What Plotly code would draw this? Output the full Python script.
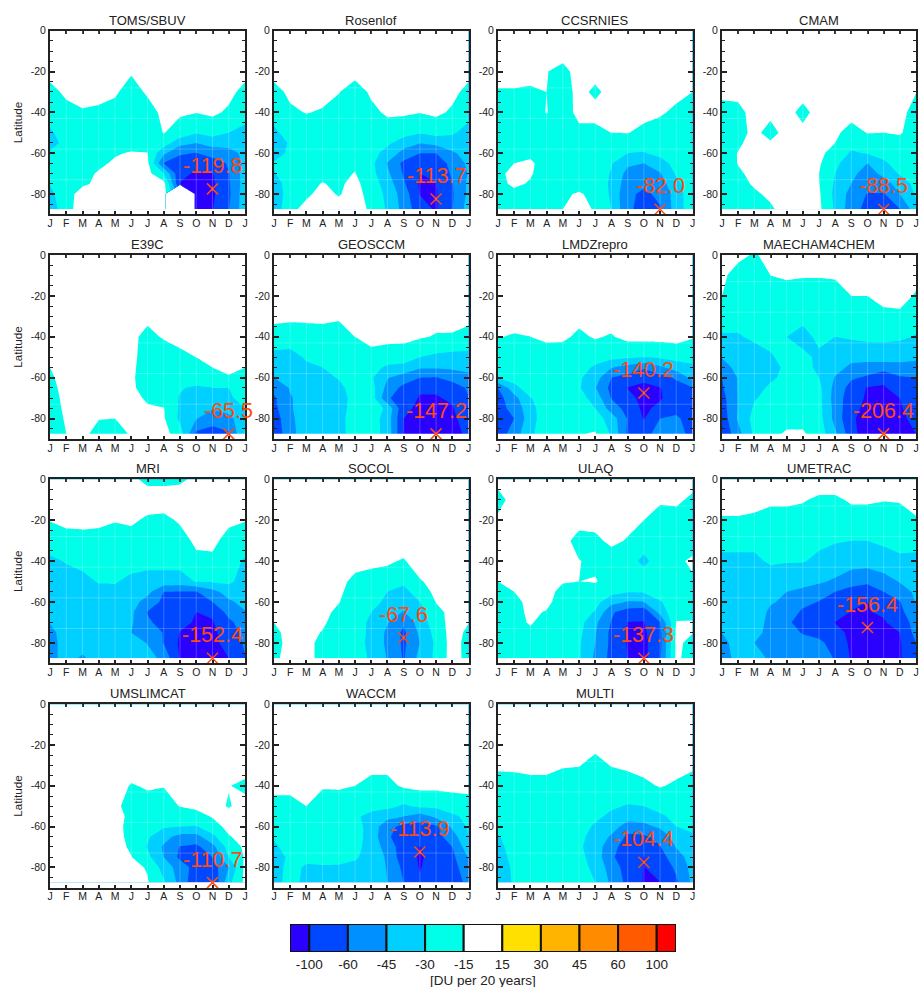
import numpy as np
import plotly.graph_objects as go

_ = None
MONTHS = ["J","F","M","A","M","J","J","A","S","O","N","D","J"]
LATS = [0,-10,-20,-30,-40,-50,-55,-60,-65,-70,-75,-80,-87.5]
LAT_TICKS = [0,-20,-40,-60,-80]
LEVELS = [-100,-60,-45,-30,-15,15,30,45,60,100]
COLORS = ["#2A00FF","#0048FF","#0090FF","#00D0FF","#00FFE8","#FFFFFF","#FFE000","#FFB400","#FF8C00","#FF5A00","#FF0000"]

TOMS = [[-2]*13,[-3]*13,
[-6,-6,-6,-6,-6,-12,-6,-6,-6,-6,-6,-6,-6],
[-19,-10,-7,-8,-11,-21,-11,-5,-6,-7,-5,-8,-19],
[-24,-19,-16,-17,-20,-22,-21,-8,-12,-14,-10,-17,-24],
[-32,-24,-22,-21,-22,-22,-24,-14,-20,-29,-24,-30,-34],
[-36,-25,-21,-20,-21,-20,-22,-22,-40,-45,-40,-42,-42],
[-28,-23,-20,-19,-16,-13,-14,-42,-58,-62,-52,-48,-43],
[-25,-22,-19,-17,-12,-10,-9,-62,-80,-90,-85,-58,-42],
[-26,-22,-18,-13,-8,-6,-5,-30,-92,-115,-105,-62,-38],
[-29,-21,-17,-10,-5,-4,-3,-4,-105,-130,-125,-65,-38],
[-34,-20,-5,-4,-3,-3,-3,-3,_,-130,-125,-68,-36],
[-40,-19,-4,-3,-3,-3,-3,-3,_,-135,-105,-62,-36]]
ROSENLOF = [[-2]*13,[-3]*13,[-6]*13,
[-19,-10,-7,-8,-14,-21,-11,-12,-6,-6,-5,-8,-19],
[-24,-17,-14,-16,-20,-22,-18,-11,-11,-14,-9,-17,-24],
[-33,-24,-22,-22,-23,-24,-23,-21,-24,-29,-25,-28,-36],
[-40,-28,-22,-22,-22,-22,-22,-27,-38,-44,-40,-37,-38],
[-38,-26,-21,-20,-20,-20,-24,-36,-50,-60,-60,-47,-40],
[-28,-23,-20,-19,-19,-17,-26,-46,-70,-85,-80,-56,-42],
[-31,-22,-19,-18,-18,-14,-25,-42,-64,-100,-90,-58,-44],
[-38,-22,-18,-14,-17,-8,-22,-37,-58,-120,-105,-62,-42],
[-42,-21,-17,-8,-16,-5,-20,-34,-52,-105,-112,-64,-42],
[-40,-18,-8,-5,-5,-5,-17,-32,-50,-85,-115,-62,-38]]
CCSRNIES = [[-2]*13,[-3]*13,
[-6,-6,-6,-14,-19,-5,-5,-3,-3,-3,-3,-3,-3],
[-16,-16,-17,-15,-22,-6,-18,-5,-3,-3,-3,-7,-15],
[-22,-22,-21,-14,-21,-8,-5,-4,-4,-6,-11,-18,-22],
[-22,-23,-22,-21,-22,-18,-19,-15,-14,-19,-22,-23,-22],
[-20,-21,-20,-22,-22,-22,-22,-22,-24,-24,-24,-24,-22],
[-20,-19,-17,-21,-23,-23,-23,-25,-30,-31,-26,-24,-22],
[-19,-15,-12,-19,-22,-23,-24,-29,-42,-45,-36,-25,-22],
[-17,-10,-13,-20,-22,-22,-23,-31,-50,-52,-46,-28,-21],
[-18,-11,-16,-20,-20,-22,-23,-32,-54,-58,-52,-34,-20],
[-20,-18,-19,-20,-18,-11,-20,-32,-58,-65,-58,-38,-20],
[-21,-21,-20,-20,-15,-8,-16,-30,-58,-70,-62,-38,-20]]
CMAM = [[-2]*13,[-3]*13,[-5]*13,
[-8,-7,-5,-5,-5,-5,-5,-5,-5,-5,-5,-5,-14],
[-20,-19,-5,-8,-6,-19,-5,-4,-5,-5,-5,-7,-20],
[-22,-20,-8,-20,-5,-8,-5,-10,-20,-14,-15,-12,-22],
[-22,-17,-6,-12,-5,-5,-7,-15,-25,-22,-21,-20,-22],
[-21,-14,-5,-6,-5,-4,-9,-20,-32,-29,-26,-22,-22],
[-22,-14,-6,-5,-5,-4,-11,-28,-35,-45,-32,-25,-22],
[-22,-17,-8,-5,-5,-4,-15,-30,-42,-50,-42,-28,-23],
[-22,-19,-12,-6,-5,-5,-14,-32,-45,-55,-50,-40,-25],
[-22,-20,-17,-10,-5,-5,-11,-34,-50,-62,-63,-45,-28],
[-22,-21,-19,-17,-4,-2,-9,-32,-54,-72,-78,-62,-36]]
E39C = [[-2]*13,[-3]*13,[-4]*13,
[-4,-4,-4,-4,-4,-4,-10,-4,-4,-4,-4,-4,-4],
[-4,-4,-4,-4,-4,-10,-18,-13,-10,-8,-6,-5,-4],
[-6,-4,-4,-4,-4,-8,-21,-21,-17,-15,-11,-7,-9],
[-15,-4,-4,-4,-4,-9,-22,-22,-20,-19,-15,-10,-15],
[-17,-5,-4,-4,-4,-10,-23,-23,-23,-22,-20,-16,-20],
[-19,-6,-4,-4,-4,-9,-22,-22,-29,-32,-30,-30,-22],
[-21,-7,-4,-4,-4,-6,-17,-21,-31,-38,-35,-33,-23],
[-22,-9,-4,-4,-4,-5,-12,-14,-32,-40,-43,-39,-30],
[-22,-12,-5,-14,-15,-10,-8,-12,-33,-44,-57,-50,-33],
[-24,-15,-8,-20,-21,-12,-6,-6,-22,-70,-68,-66,-28]]
GEOSCCM = [[-2]*13,[-3]*13,[-5]*13,
[-9,-10,-9,-8,-11,-6,-5,-5,-5,-6,-6,-7,-8],
[-20,-21,-21,-21,-22,-15,-9,-8,-8,-12,-16,-16,-19],
[-35,-36,-28,-26,-24,-22,-18,-21,-22,-30,-33,-35,-35],
[-37,-37,-33,-30,-26,-23,-24,-33,-35,-43,-43,-42,-40],
[-45,-41,-37,-34,-29,-25,-28,-44,-52,-60,-62,-55,-50],
[-56,-44,-39,-36,-34,-23,-24,-50,-72,-95,-95,-80,-58],
[-65,-46,-40,-37,-35,-26,-22,-58,-82,-110,-110,-95,-62],
[-72,-46,-40,-37,-35,-25,-22,-33,-92,-125,-125,-110,-72],
[-85,-47,-40,-37,-34,-24,-22,-37,-100,-135,-140,-120,-88],
[-95,-48,-40,-37,-33,-26,-24,-35,-110,-140,-147,-130,-95]]
LMDZ = [[-2]*13,[-3]*13,[-3]*13,
[-5,-5,-5,-5,-5,-9,-5,-5,-5,-5,-5,-5,-5],
[-14,-16,-15,-10,-11,-17,-13,-16,-7,-6,-6,-5,-13],
[-22,-20,-21,-21,-21,-21,-22,-26,-28,-30,-28,-25,-25],
[-27,-21,-20,-20,-20,-22,-33,-44,-50,-58,-48,-38,-33],
[-29,-22,-21,-20,-20,-28,-38,-60,-75,-92,-75,-58,-40],
[-60,-36,-20,-20,-20,-28,-44,-72,-105,-130,-105,-75,-62],
[-75,-50,-31,-20,-20,-24,-36,-62,-90,-135,-115,-80,-72],
[-75,-55,-35,-21,-20,-21,-30,-52,-75,-130,-90,-70,-72],
[-80,-60,-36,-21,-20,-20,-23,-37,-62,-110,-60,-58,-75],
[-85,-52,-34,-17,-16,-16,-12,-32,-66,-78,-52,-50,-80]]
MAECHAM = [[-10,-10,-16,-9,-8,-8,-8,-8,-5,-5,-4,-4,-8],
[-11,-19,-21,-15,-12,-13,-13,-12,-9,-8,-6,-5,-9],
[-15,-24,-23,-22,-20,-22,-22,-21,-15,-15,-10,-8,-16],
[-21,-26,-25,-25,-24,-25,-25,-25,-21,-21,-17,-17,-23],
[-32,-31,-28,-27,-30,-36,-26,-30,-28,-27,-27,-27,-31],
[-44,-38,-35,-31,-27,-26,-33,-35,-41,-39,-38,-42,-44],
[-53,-39,-36,-35,-27,-25,-33,-40,-48,-52,-53,-48,-47],
[-60,-44,-38,-32,-27,-25,-30,-46,-58,-66,-90,-65,-60],
[-65,-44,-34,-28,-25,-24,-26,-50,-75,-110,-115,-85,-65],
[-75,-44,-31,-26,-24,-24,-25,-52,-82,-120,-135,-100,-75],
[-78,-44,-28,-24,-23,-23,-25,-50,-90,-130,-155,-115,-82],
[-85,-43,-25,-22,-20,-20,-24,-50,-95,-150,-180,-130,-90],
[-95,-50,-27,-19,-11,-11,-22,-42,-85,-190,-206,-150,-100]]
MRI = [[-3,-3,-3,-3,-3,-10,-18,-18,-17,-10,-3,-3,-3],
[-3]*13,
[-14,-8,-8,-10,-14,-11,-17,-18,-12,-9,-6,-9,-14],
[-22,-20,-19,-19,-19,-20,-21,-21,-20,-10,-8,-20,-21],
[-33,-29,-26,-23,-22,-25,-26,-26,-25,-18,-18,-23,-32],
[-44,-36,-34,-29,-29,-33,-35,-35,-36,-29,-28,-27,-36],
[-38,-37,-35,-34,-33,-36,-40,-60,-62,-62,-50,-38,-38],
[-38,-37,-36,-35,-34,-38,-52,-68,-70,-72,-60,-48,-40],
[-38,-37,-36,-36,-35,-42,-62,-75,-85,-100,-95,-55,-46],
[-44,-37,-36,-36,-35,-43,-58,-72,-90,-115,-110,-70,-52],
[-50,-37,-36,-44,-35,-45,-50,-62,-105,-125,-125,-85,-54],
[-52,-37,-36,-42,-35,-36,-46,-62,-125,-140,-140,-85,-58],
[-52,-37,-48,-36,-35,-36,-38,-50,-110,-145,-152,-100,-62]]
SOCOL = [[-2]*13,[-3]*13,[-3]*13,[-4]*13,
[-4,-4,-4,-4,-4,-4,-9,-12,-16,-4,-4,-4,-4],
[-4,-4,-4,-4,-6,-19,-20,-20,-26,-16,-8,-4,-4],
[-4,-4,-4,-4,-10,-21,-22,-30,-36,-20,-10,-4,-4],
[-4,-4,-4,-5,-14,-22,-24,-34,-42,-30,-14,-4,-4],
[-5,-4,-4,-8,-18,-22,-30,-38,-46,-35,-20,-5,-5],
[-15,-4,-4,-10,-22,-23,-33,-44,-58,-38,-22,-4,-14],
[-19,-4,-5,-16,-22,-24,-33,-48,-68,-42,-25,-3,-18],
[-21,-4,-7,-19,-23,-24,-34,-48,-67,-45,-27,-3,-20],
[-19,-1,-7,-19,-24,-24,-32,-46,-64,-40,-27,-2,-20]]
ULAQ = [[-5,-3,-3,-3,-3,-3,-3,-3,-3,-3,-3,-3,-3],
[-20,-4,-4,-4,-4,-4,-4,-4,-4,-4,-10,-9,-18],
[-10,-3,-3,-3,-3,-5,-6,-5,-7,-15,-22,-21,-22],
[-4,-3,-3,-3,-6,-20,-18,-9,-16,-24,-24,-23,-22],
[-4,-3,-3,-3,-5,-14,-18,-22,-25,-33,-24,-18,-10],
[-15,-8,-4,-4,-13,-15,-13,-20,-24,-22,-23,-22,-17],
[-20,-15,-8,-6,-19,-22,-22,-25,-29,-28,-24,-22,-22],
[-22,-18,-9,-8,-22,-23,-25,-40,-46,-45,-31,-23,-22],
[-22,-19,-10,-16,-22,-24,-31,-58,-80,-90,-40,-18,-22],
[-22,-20,-12,-21,-22,-24,-42,-62,-105,-105,-62,-14,-12],
[-22,-21,-18,-22,-22,-26,-44,-70,-115,-125,-70,-10,-14],
[-22,-21,-20,-22,-22,-28,-45,-70,-110,-135,-72,-9,-19],
[-22,-22,-22,-22,-22,-28,-48,-72,-100,-137,-66,-9,-22]]
UMETRAC = [[-2]*13,
[-7,-7,-8,-11,-11,-13,-17,-17,-12,-12,-14,-13,-8],
[-16,-16,-17,-19,-19,-20,-21,-22,-20,-20,-20,-20,-16],
[-26,-26,-26,-24,-24,-25,-27,-29,-30,-30,-28,-25,-26],
[-33,-33,-33,-28,-29,-29,-33,-36,-37,-38,-35,-33,-33],
[-36,-37,-37,-38,-40,-42,-43,-47,-56,-58,-52,-44,-38],
[-37,-37,-38,-40,-45,-47,-52,-60,-70,-75,-60,-53,-42],
[-37,-38,-39,-44,-47,-55,-62,-70,-88,-100,-76,-62,-44],
[-38,-38,-39,-47,-50,-68,-74,-78,-108,-108,-95,-70,-50],
[-38,-38,-40,-48,-58,-72,-78,-105,-125,-130,-115,-80,-55],
[-45,-38,-42,-48,-50,-64,-68,-90,-125,-156,-135,-100,-55],
[-50,-38,-45,-46,-48,-52,-58,-70,-135,-150,-145,-115,-60],
[-55,-38,-40,-47,-50,-53,-55,-62,-115,-150,-150,-115,-70]]
UMSLIMCAT = [[-2]*13,[-3]*13,[-3]*13,[-3]*13,
[-4,-4,-4,-4,-4,-16,-12,-14,-4,-4,-8,-14,-18],
[-4,-4,-4,-4,-8,-21,-20,-21,-14,-9,-6,-16,-6],
[-4,-4,-4,-4,-6,-18,-22,-22,-22,-20,-13,-5,-4],
[-4,-4,-4,-4,-5,-20,-24,-28,-30,-31,-20,-8,-5],
[-4,-4,-4,-4,-5,-19,-28,-40,-50,-50,-34,-16,-6],
[-4,-4,-4,-4,-5,-17,-31,-47,-62,-70,-50,-24,-10],
[-4,-4,-4,-4,-5,-14,-26,-45,-68,-72,-60,-30,-12],
[-4,-4,-4,-4,-4,-8,-16,-36,-52,-76,-80,-45,-8],
[-2,-2,-2,-2,-2,-5,-13,-28,-50,-90,-110,-34,-9]]
WACCM = [[-2]*13,[-3]*13,[-3]*13,
[-5,-5,-5,-5,-5,-5,-8,-8,-5,-5,-5,-5,-5],
[-8,-8,-6,-13,-12,-15,-19,-19,-11,-8,-8,-8,-8],
[-19,-19,-15,-20,-21,-22,-23,-26,-32,-27,-27,-22,-20],
[-21,-22,-21,-22,-22,-27,-36,-40,-45,-52,-42,-33,-26],
[-22,-23,-22,-22,-23,-24,-36,-55,-72,-78,-66,-42,-28],
[-28,-23,-23,-23,-23,-24,-36,-58,-80,-88,-75,-52,-30],
[-33,-23,-22,-23,-23,-24,-38,-50,-85,-105,-85,-60,-36],
[-37,-27,-24,-23,-24,-28,-36,-47,-85,-112,-90,-70,-44],
[-40,-23,-33,-32,-32,-34,-36,-46,-70,-110,-80,-80,-48],
[-38,-22,-36,-36,-36,-36,-37,-45,-60,-95,-78,-105,-52]]
MULTI = [[-2]*13,[-3]*13,
[-6,-6,-6,-6,-6,-6,-9,-6,-6,-6,-6,-6,-6],
[-11,-10,-8,-8,-13,-14,-19,-14,-11,-6,-5,-6,-11],
[-20,-20,-19,-19,-21,-22,-22,-22,-20,-18,-13,-17,-20],
[-22,-23,-23,-23,-23,-23,-24,-28,-31,-30,-26,-24,-22],
[-22,-23,-23,-23,-23,-24,-27,-33,-38,-37,-32,-27,-25],
[-25,-23,-23,-23,-23,-24,-32,-38,-52,-50,-42,-30,-27],
[-31,-24,-23,-23,-23,-26,-36,-47,-68,-66,-56,-38,-32],
[-34,-24,-23,-23,-23,-28,-36,-56,-76,-85,-62,-44,-36],
[-37,-25,-24,-23,-24,-26,-36,-58,-80,-105,-75,-52,-38],
[-42,-26,-24,-23,-24,-24,-34,-52,-78,-105,-80,-58,-40],
[-44,-27,-24,-24,-24,-24,-30,-48,-72,-110,-104,-65,-42]]

NAMES = ["TOMS/SBUV","Rosenlof","CCSRNIES","CMAM","E39C","GEOSCCM","LMDZrepro","MAECHAM4CHEM",
         "MRI","SOCOL","ULAQ","UMETRAC","UMSLIMCAT","WACCM","MULTI"]
TABLES = [TOMS,ROSENLOF,CCSRNIES,CMAM,E39C,GEOSCCM,LMDZ,MAECHAM,MRI,SOCOL,ULAQ,UMETRAC,UMSLIMCAT,WACCM,MULTI]
PEAK_MONTH = [10,10,10,10,11,10,9,10,10,8,9,9,10,9,9]
PEAK_LAT = [-77.5,-82.5,-87.5,-87.5,-87.5,-87.5,-67.5,-87.5,-87.5,-77.5,-87.5,-72.5,-87.5,-72.5,-77.5]
PEAK_VALUE = [-119.8,-113.7,-82.0,-88.5,-65.5,-147.2,-140.2,-206.4,-152.4,-67.6,-137.3,-156.4,-110.7,-113.9,-104.4]

W, H = 919, 987
COLS = [(50,245),(274,468.5),(498,692.5),(722,916)]
ROWS = [(30.7,214.4),(255,439),(479.3,663.3),(704.3,887.7)]
FONT = "Liberation Sans, Arial, sans-serif"
INK = "#222222"
MARK = "#FF4A10"

def to_band(table):
    z = np.array(table, dtype=float)
    return np.interp(z, [-250]+LEVELS+[250], np.arange(-1, 11))

n = len(COLORS)
scale = []
for i, c in enumerate(COLORS):
    scale += [[i/n, c], [(i+1)/n, c]]

fig = go.Figure()
layout = {}
annotations = []
shapes = []
for i, name in enumerate(NAMES):
    r, c = divmod(i, 4)
    sfx = str(i+1) if i else ""
    xa, ya = "x"+sfx, "y"+sfx
    fig.add_trace(go.Contour(x=list(range(13)), y=LATS, z=to_band(TABLES[i]), xaxis=xa, yaxis=ya,
        colorscale=scale, zmin=-1, zmax=10, autocontour=False, showscale=False, connectgaps=False,
        contours=dict(start=0, end=9, size=1, coloring="fill", showlines=False),
        line=dict(width=0, smoothing=0), hoverinfo="skip"))
    # clean white strip below the last data row
    fig.add_trace(go.Scatter(x=[0,12], y=[-88.1,-88.1], xaxis=xa, yaxis=ya, mode="lines",
        line=dict(color="#FFFFFF", width=2.5), hoverinfo="skip", showlegend=False))
    fig.add_trace(go.Scatter(x=[PEAK_MONTH[i]], y=[PEAK_LAT[i]], xaxis=xa, yaxis=ya, mode="markers",
        cliponaxis=False, hoverinfo="skip", showlegend=False,
        marker=dict(symbol="x-thin", size=11, line=dict(color=MARK, width=1.5))))
    annotations.append(dict(x=PEAK_MONTH[i], y=PEAK_LAT[i], xref=xa, yref=ya, yshift=23, showarrow=False,
        text=f"{PEAK_VALUE[i]:.1f}", xanchor="center", yanchor="middle", font=dict(family=FONT, size=21.5, color=MARK)))
    x0, x1 = COLS[c]
    y0, y1 = ROWS[r]
    annotations.append(dict(x=(x0+x1)/2/W, y=1-(y0-10.5)/H, xref="paper", yref="paper", showarrow=False,
        text=name, xanchor="center", yanchor="middle", font=dict(family=FONT, size=13, color=INK)))
    layout["xaxis"+sfx] = dict(domain=[x0/W, x1/W], anchor=ya, range=[0,12], tickmode="array",
        tickvals=list(range(13)), ticktext=MONTHS, ticks="inside", ticklen=3, tickwidth=1.5, tickcolor=INK,
        showline=True, linewidth=2, linecolor=INK, mirror="ticks", showgrid=False, zeroline=False,
        ticklabelstandoff=-2, tickfont=dict(family=FONT, size=10.5, color=INK), layer="above traces")
    layout["yaxis"+sfx] = dict(domain=[1-y1/H, 1-y0/H], anchor=xa, range=[-90,0], tickmode="array",
        tickvals=LAT_TICKS, ticktext=[str(v) for v in LAT_TICKS], ticks="inside", ticklen=5, tickwidth=1.5, tickcolor=INK,
        minor=dict(tickmode="array", tickvals=[v for v in range(-85,0,5) if v % 20], ticks="inside", ticklen=3, tickwidth=1.2, tickcolor=INK),
        showline=True, linewidth=2, linecolor=INK, mirror="ticks", showgrid=False, zeroline=False,
        tickfont=dict(family=FONT, size=10.5, color=INK), layer="above traces",
        title=dict(text="Latitude" if c == 0 else "", font=dict(family=FONT, size=11.7, color=INK), standoff=6))
    for m in range(1, 12):
        shapes.append(dict(type="line", xref=xa, yref=ya, x0=m, x1=m, y0=-87.5, y1=0, line=dict(color="rgba(255,255,255,0.22)", width=1)))
    for lat in (-13,-28,-43,-58,-73):
        shapes.append(dict(type="line", xref=xa, yref=ya, x0=0, x1=12, y0=lat, y1=lat, line=dict(color="rgba(255,255,255,0.22)", width=1)))

# colour key
BAR_WIDTHS = [0.5]+[1]*9+[0.5]
fig.add_trace(go.Bar(x=BAR_WIDTHS, y=[0]*n, base=np.cumsum([0]+BAR_WIDTHS[:-1]), orientation="h", xaxis="x16", yaxis="y16",
    marker=dict(color=COLORS, line=dict(color="#111111", width=2)), width=1, hoverinfo="skip", showlegend=False))
layout["xaxis16"] = dict(domain=[290/W, 676/W], anchor="y16", range=[0,10], tickmode="array",
    tickvals=[v+0.5 for v in range(10)], ticktext=[str(v) for v in LEVELS], ticks="", showline=False,
    showgrid=False, zeroline=False, ticklabelstandoff=2, tickfont=dict(family=FONT, size=13.5, color=INK))
layout["yaxis16"] = dict(domain=[1-952/H, 1-924/H], anchor="x16", range=[-0.5,0.5], visible=False)
annotations.append(dict(x=483/W, y=1-980/H, xref="paper", yref="paper", showarrow=False, text="[DU per 20 years]",
    xanchor="center", yanchor="middle", font=dict(family=FONT, size=13.5, color=INK)))

fig.update_layout(width=W, height=H, margin=dict(l=0,r=0,t=0,b=0,autoexpand=False), autosize=False, showlegend=False,
    plot_bgcolor="white", paper_bgcolor="white", annotations=annotations, shapes=shapes, **layout)
fig.write_html("out.html", config={"displayModeBar": False},
    post_script="document.body.style.margin='0';document.body.style.overflow='hidden';")
